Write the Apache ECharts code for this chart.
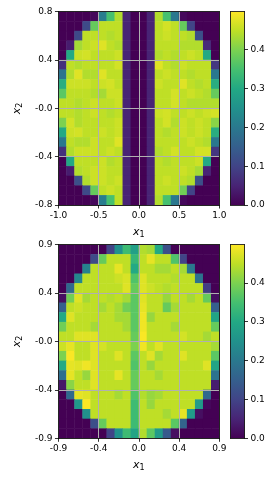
<!DOCTYPE html>
<html><head><meta charset="utf-8">
<script src="https://cdn.jsdelivr.net/npm/echarts@6/dist/echarts.min.js"></script>
<style>html,body{margin:0;padding:0;background:#fff}#c{width:270px;height:477px}</style>
</head><body><div id="c"></div>
<script>
// ---- data ----
const topXCats = [-0.95,-0.85,-0.75,-0.65,-0.55,-0.45,-0.35,-0.25,-0.15,-0.05,0.05,0.15,0.25,0.35,0.45,0.55,0.65,0.75,0.85,0.95];
const topYCats = [0.76,0.68,0.60,0.52,0.44,0.36,0.28,0.20,0.12,0.04,-0.04,-0.12,-0.20,-0.28,-0.36,-0.44,-0.52,-0.60,-0.68,-0.76];
const botXCats = [-0.855,-0.765,-0.675,-0.585,-0.495,-0.405,-0.315,-0.225,-0.135,-0.045,0.045,0.135,0.225,0.315,0.405,0.495,0.585,0.675,0.765,0.855];
const botYCats = [0.855,0.765,0.675,0.585,0.495,0.405,0.315,0.225,0.135,0.045,-0.045,-0.135,-0.225,-0.315,-0.405,-0.495,-0.585,-0.675,-0.765,-0.855];

// rows listed from top (max x2) to bottom (min x2)
const topRows = [
[0,0,0,0,0.01,0.21,0.35,0.44,0.05,0, 0,0.05,0.44,0.35,0.2,0.01,0,0,0,0],
[0,0,0,0.11,0.38,0.45,0.45,0.45,0.05,0, 0,0.05,0.45,0.465,0.45,0.38,0.1,0,0,0],
[0,0,0.11,0.45,0.45,0.45,0.44,0.45,0.05,0, 0,0.05,0.45,0.46,0.45,0.45,0.44,0.12,0,0],
[0,0.04,0.43,0.45,0.46,0.475,0.45,0.44,0.05,0, 0,0.05,0.45,0.45,0.45,0.44,0.44,0.44,0.06,0],
[0,0.3,0.46,0.465,0.45,0.45,0.45,0.46,0.05,0, 0,0.05,0.44,0.45,0.44,0.45,0.46,0.45,0.3,0],
[0.07,0.45,0.44,0.45,0.45,0.45,0.45,0.465,0.05,0, 0,0.05,0.475,0.45,0.44,0.46,0.45,0.45,0.45,0.08],
[0.19,0.44,0.475,0.44,0.44,0.475,0.45,0.45,0.05,0, 0,0.05,0.45,0.46,0.45,0.45,0.44,0.45,0.45,0.2],
[0.31,0.46,0.46,0.46,0.45,0.46,0.465,0.45,0.05,0, 0,0.05,0.46,0.45,0.45,0.475,0.45,0.44,0.45,0.31],
[0.37,0.45,0.45,0.45,0.44,0.43,0.46,0.46,0.05,0, 0,0.05,0.45,0.45,0.465,0.45,0.46,0.45,0.44,0.38],
[0.45,0.45,0.44,0.45,0.46,0.45,0.45,0.46,0.05,0, 0,0.05,0.45,0.45,0.465,0.45,0.44,0.44,0.44,0.44],
[0.45,0.45,0.44,0.45,0.46,0.45,0.44,0.45,0.05,0, 0,0.05,0.46,0.465,0.45,0.45,0.46,0.45,0.46,0.465],
[0.4,0.465,0.44,0.45,0.45,0.45,0.45,0.46,0.05,0, 0,0.05,0.45,0.465,0.44,0.46,0.45,0.46,0.45,0.41],
[0.3,0.46,0.465,0.45,0.45,0.46,0.45,0.46,0.05,0, 0,0.05,0.45,0.44,0.45,0.46,0.45,0.46,0.45,0.31],
[0.2,0.45,0.44,0.44,0.46,0.45,0.45,0.475,0.05,0, 0,0.05,0.45,0.45,0.45,0.45,0.46,0.45,0.44,0.2],
[0.07,0.44,0.46,0.46,0.46,0.45,0.46,0.45,0.05,0, 0,0.05,0.44,0.45,0.465,0.45,0.45,0.465,0.465,0.08],
[0,0.3,0.45,0.45,0.45,0.46,0.44,0.45,0.05,0, 0,0.05,0.45,0.44,0.45,0.45,0.45,0.46,0.3,0],
[0,0.04,0.44,0.45,0.46,0.46,0.45,0.45,0.05,0, 0,0.05,0.45,0.45,0.45,0.46,0.45,0.43,0.05,0],
[0,0,0.12,0.44,0.46,0.46,0.45,0.46,0.05,0, 0,0.05,0.45,0.46,0.45,0.45,0.44,0.12,0,0],
[0,0,0,0.11,0.38,0.45,0.46,0.45,0.05,0, 0,0.05,0.45,0.45,0.45,0.39,0.1,0,0,0],
[0,0,0,0,0.01,0.21,0.35,0.45,0.05,0, 0,0.05,0.44,0.35,0.2,0.01,0,0,0,0]
];

const botRows = [
[0,0,0,0,0,0,0.1,0.25,0.34,0.28, 0.44,0.43,0.3,0.12,0,0,0,0,0,0],
[0,0,0,0,0.11,0.38,0.45,0.45,0.45,0.33, 0.45,0.48,0.45,0.45,0.36,0.1,0,0,0,0],
[0,0,0,0.22,0.45,0.45,0.45,0.48,0.45,0.3, 0.45,0.45,0.43,0.43,0.45,0.43,0.2,0,0,0],
[0,0,0.23,0.45,0.45,0.45,0.45,0.46,0.47,0.36, 0.475,0.45,0.45,0.45,0.44,0.45,0.45,0.19,0,0],
[0,0.17,0.45,0.45,0.45,0.45,0.45,0.45,0.475,0.38, 0.475,0.46,0.45,0.44,0.45,0.45,0.45,0.45,0.09,0],
[0.02,0.39,0.475,0.43,0.45,0.45,0.44,0.45,0.43,0.37, 0.475,0.45,0.45,0.42,0.45,0.45,0.43,0.45,0.38,0.02],
[0.15,0.45,0.46,0.45,0.45,0.43,0.45,0.43,0.39,0.37, 0.48,0.45,0.45,0.38,0.43,0.45,0.45,0.45,0.45,0.15],
[0.3,0.475,0.45,0.45,0.45,0.45,0.45,0.43,0.43,0.37, 0.488,0.42,0.45,0.45,0.45,0.45,0.45,0.45,0.45,0.29],
[0.39,0.45,0.45,0.45,0.43,0.45,0.45,0.45,0.43,0.37, 0.488,0.45,0.45,0.45,0.43,0.45,0.45,0.45,0.45,0.38],
[0.45,0.45,0.475,0.475,0.475,0.45,0.45,0.45,0.45,0.38, 0.495,0.45,0.45,0.45,0.45,0.465,0.45,0.45,0.43,0.45],
[0.46,0.48,0.45,0.45,0.475,0.465,0.45,0.45,0.45,0.4, 0.488,0.45,0.475,0.45,0.45,0.45,0.45,0.45,0.45,0.43],
[0.4,0.495,0.45,0.45,0.475,0.45,0.45,0.475,0.45,0.37, 0.45,0.475,0.43,0.45,0.45,0.475,0.45,0.45,0.45,0.37],
[0.3,0.48,0.475,0.488,0.475,0.45,0.45,0.45,0.45,0.36, 0.45,0.42,0.45,0.45,0.45,0.45,0.45,0.45,0.475,0.29],
[0.18,0.48,0.45,0.42,0.475,0.45,0.45,0.48,0.45,0.38, 0.45,0.45,0.43,0.45,0.45,0.45,0.45,0.45,0.45,0.19],
[0.03,0.41,0.45,0.45,0.475,0.45,0.45,0.45,0.45,0.38, 0.45,0.45,0.45,0.45,0.45,0.45,0.45,0.45,0.45,0.04],
[0,0.17,0.48,0.475,0.45,0.45,0.45,0.43,0.45,0.36, 0.44,0.42,0.43,0.45,0.45,0.45,0.45,0.45,0.17,0],
[0,0,0.26,0.495,0.45,0.45,0.45,0.45,0.45,0.34, 0.45,0.42,0.45,0.45,0.45,0.45,0.45,0.27,0.01,0],
[0,0,0,0.25,0.45,0.45,0.45,0.45,0.45,0.34, 0.45,0.45,0.45,0.43,0.45,0.48,0.27,0.02,0,0],
[0,0,0,0,0.12,0.38,0.45,0.45,0.45,0.34, 0.45,0.45,0.45,0.45,0.37,0.16,0,0,0,0],
[0,0,0,0,0,0,0.1,0.25,0.34,0.29, 0.44,0.37,0.27,0.14,0.02,0,0,0,0,0]
];

const topXTicks = ['-1.0','-0.5','0.0','0.5','1.0'];
const topYTicks = ['-0.8','-0.4','-0.0','0.4','0.8'];
const botXTicks = ['-0.9','-0.4','0.0','0.4','0.9'];
const botYTicks = ['-0.9','-0.4','-0.0','0.4','0.9'];
const cbTickValues = [0, 0.1, 0.2, 0.3, 0.4];
const cbTickLabels = ['0.0','0.1','0.2','0.3','0.4'];
const vmax = 0.498;
const viridis = ['#440154','#482475','#414487','#355f8d','#2a788e','#21918c','#22a884','#44bf70','#7ad151','#bddf26','#fde725'];

// ---- chart ----
const FONT = 'DejaVu Sans';
const chart = echarts.init(document.getElementById('c'), null, {renderer: 'canvas'});

function toCells(rows) {
  const out = [];
  rows.forEach((row, r) => row.forEach((v, c) => out.push([c, r, v])));
  return out;
}
const G = [
  {left: 47.3, top: 11.7, width: 172, height: 193.3},
  {left: 47.3, top: 244.7, width: 172, height: 193.6},
  {left: 230.5, top: 11.7, width: 14, height: 193.3},
  {left: 230.5, top: 244.7, width: 14, height: 193.6}
];
const spine = {show: true, onZero: false, lineStyle: {color: '#000', width: 0.8}};
const nameRich = {
  i: {fontFamily: FONT, fontStyle: 'italic', fontSize: 11, color: '#000', lineHeight: 14},
  s: {fontFamily: FONT, fontSize: 8, color: '#000', lineHeight: 8, padding: [8, 0, 0, 0], verticalAlign: 'bottom'}
};
function hiddenCat(gi, data, inverse) {
  return {type: 'category', gridIndex: gi, data: data, show: false, inverse: !!inverse, boundaryGap: true};
}
function valAxis(gi, pos, min, max, interval, labels, name, nameGap, isY) {
  return {
    type: 'value', gridIndex: gi, position: pos, min: min, max: max, interval: interval, z: 5,
    axisLine: spine,
    axisTick: {show: true, inside: false, length: 3.5, lineStyle: {color: '#000', width: 0.8}},
    axisLabel: {show: true, margin: 6, fontFamily: FONT, fontSize: 9, color: '#000',
      formatter: v => labels[Math.round((v - min) / interval)]},
    splitLine: {show: true, lineStyle: {color: '#b0b0b0', width: 1}},
    name: name, nameLocation: 'middle', nameGap: nameGap, nameRotate: isY ? 90 : 0,
    nameTextStyle: {rich: nameRich}
  };
}
function spineAxis(gi, pos, type, min, max) {
  const a = {type: type, gridIndex: gi, position: pos, z: 6, axisLine: spine,
    axisTick: {show: false}, axisLabel: {show: false}, splitLine: {show: false}};
  if (type === 'value') { a.min = min; a.max = max; } else { a.data = ['cb']; }
  return a;
}
function cbAxis(gi) {
  return {type: 'value', gridIndex: gi, position: 'right', min: 0, max: vmax, z: 6,
    axisLine: spine,
    axisTick: {show: true, inside: false, length: 3.5, customValues: cbTickValues, lineStyle: {color: '#000', width: 0.8}},
    axisLabel: {show: true, margin: 6, fontFamily: FONT, fontSize: 9, color: '#000', customValues: cbTickValues,
      formatter: v => cbTickLabels[Math.round(v * 10)]},
    splitLine: {show: false}};
}
function cbGradient() {
  return new echarts.graphic.LinearGradient(0, 1, 0, 0,
    viridis.map((c, k) => ({offset: k / (viridis.length - 1), color: c})));
}

const option = {
  animation: false,
  textStyle: {fontFamily: FONT},
  grid: G,
  xAxis: [
    hiddenCat(0, topXCats),
    valAxis(0, 'bottom', -1, 1, 0.5, topXTicks, '{i|x}{s|1}', 20, false),
    spineAxis(0, 'top', 'value', -1, 1),
    hiddenCat(1, botXCats),
    valAxis(1, 'bottom', -0.9, 0.9, 0.45, botXTicks, '{i|x}{s|1}', 20, false),
    spineAxis(1, 'top', 'value', -0.9, 0.9),
    spineAxis(2, 'bottom', 'category'),
    spineAxis(2, 'top', 'category'),
    spineAxis(3, 'bottom', 'category'),
    spineAxis(3, 'top', 'category')
  ],
  yAxis: [
    hiddenCat(0, topYCats, true),
    valAxis(0, 'left', -0.8, 0.8, 0.4, topYTicks, '{i|x}{s|2}', 32, true),
    spineAxis(0, 'right', 'value', -0.8, 0.8),
    hiddenCat(1, botYCats, true),
    valAxis(1, 'left', -0.9, 0.9, 0.45, botYTicks, '{i|x}{s|2}', 32, true),
    spineAxis(1, 'right', 'value', -0.9, 0.9),
    cbAxis(2),
    spineAxis(2, 'left', 'value', 0, vmax),
    cbAxis(3),
    spineAxis(3, 'left', 'value', 0, vmax)
  ],
  visualMap: {
    type: 'continuous', show: false, min: 0, max: vmax, dimension: 2, seriesIndex: [0, 1],
    inRange: {color: viridis}
  },
  series: [
    {type: 'heatmap', xAxisIndex: 0, yAxisIndex: 0, data: toCells(topRows), progressive: 0,
      emphasis: {disabled: true}, z: 2},
    {type: 'heatmap', xAxisIndex: 3, yAxisIndex: 3, data: toCells(botRows), progressive: 0,
      emphasis: {disabled: true}, z: 2},
    {type: 'bar', xAxisIndex: 6, yAxisIndex: 6, data: [vmax], barWidth: '100%', silent: true,
      itemStyle: {color: cbGradient()}},
    {type: 'bar', xAxisIndex: 8, yAxisIndex: 8, data: [vmax], barWidth: '100%', silent: true,
      itemStyle: {color: cbGradient()}}
  ]
};
chart.setOption(option);
</script></body></html>
